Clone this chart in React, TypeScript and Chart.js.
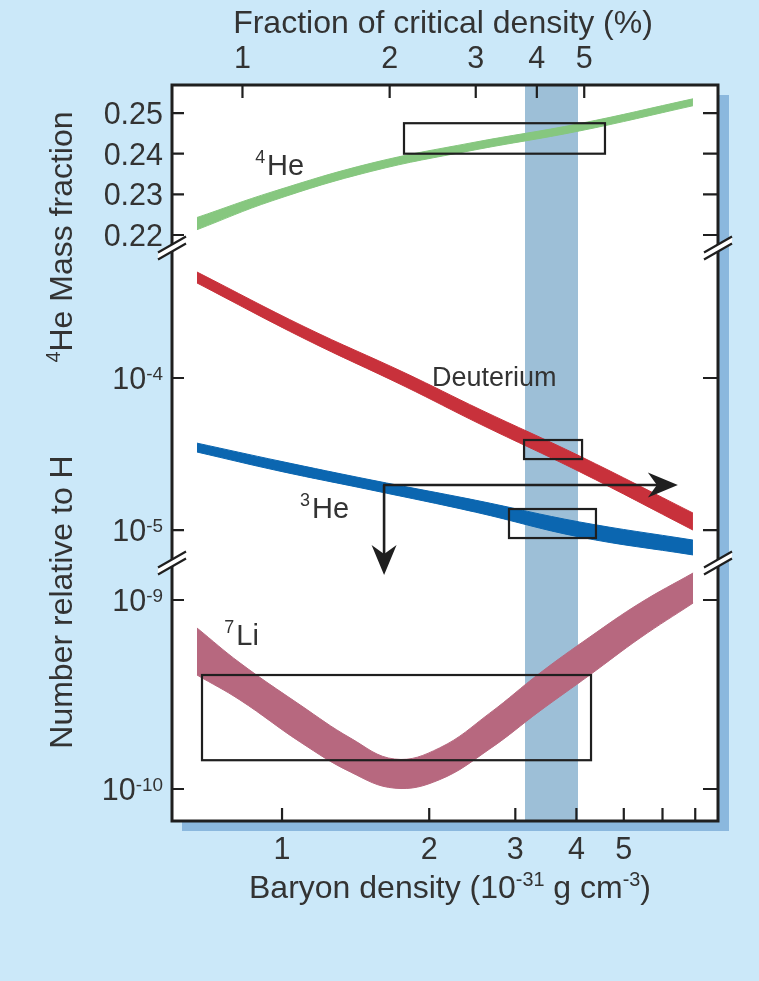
import React, { useEffect, useRef } from 'react';
import { Chart, registerables } from 'chart.js';

Chart.register(...registerables);

const W = 759;
const H = 981;

// ---- axes (baryon density, 10^-31 g cm^-3) ----
const xMin = 0.5956;
const xMax = 7.792;
const critPerPercent = 0.83; // baryon density equal to 1 % of critical density
const xBottomTicks = [1, 2, 3, 4, 5, 6, 7];
const xBottomLabels = ['1', '2', '3', '4', '5', '', ''];
const xTopTicks = [1, 2, 3, 4, 5];
const xTopLabels = ['1', '2', '3', '4', '5'];

const he4Range = [0.2168, 0.2569];
const he4Ticks = [0.22, 0.23, 0.24, 0.25];
const he4TickLabels = ['0.22', '0.23', '0.24', '0.25'];
const midRange = [6.07e-6, 7.165e-4];
const midTicks = [1e-5, 1e-4];
const midTickExp = ['-5', '-4'];
const liRange = [6.77e-11, 1.57e-9];
const liTicks = [1e-10, 1e-9];
const liTickExp = ['-10', '-9'];

// ---- theory bands ----
const he4X = [0.67, 0.954, 1.527, 2.446, 4.06, 6.925];
const he4Upper = [0.2243, 0.2306, 0.2377, 0.2427, 0.2474, 0.2535];
const he4Lower = [0.2213, 0.2284, 0.2357, 0.2408, 0.2456, 0.2518];

const dX = [0.67, 1.114, 1.785, 2.541, 4.06, 6.925];
const dUpper = [4.98e-4, 2.165e-4, 1.079e-4, 6.21e-5, 3.07e-5, 1.294e-5];
const dLower = [4.22e-4, 1.807e-4, 8.79e-5, 4.98e-5, 2.42e-5, 1.0e-5];

const he3X = [0.67, 0.99, 1.527, 2.49, 4.06, 6.925];
const he3Upper = [3.73e-5, 2.84e-5, 2.13e-5, 1.57e-5, 1.13e-5, 8.59e-6];
const he3Lower = [3.26e-5, 2.44e-5, 1.83e-5, 1.31e-5, 9.0e-6, 6.86e-6];

const liX = [0.67, 0.82, 1.09, 1.38, 1.7, 2.1, 2.66, 3.37, 4.26, 5.4, 6.93];
const liUpper = [7.11e-10, 4.65e-10, 2.78e-10, 1.86e-10, 1.44e-10, 1.65e-10, 2.52e-10, 4.11e-10, 6.37e-10, 9.64e-10, 1.39e-9];
const liLower = [4.01e-10, 2.96e-10, 1.77e-10, 1.23e-10, 1.01e-10, 1.12e-10, 1.63e-10, 2.59e-10, 4.01e-10, 6.3e-10, 9.64e-10];

// ---- observational constraints ----
const concordance = [3.14, 4.03];
const he4Box = { x: [1.776, 4.576], y: [0.24, 0.2475] };
const dBox = { x: [3.126, 4.108], y: [2.93e-5, 3.91e-5] };
const he3Box = { x: [2.912, 4.386], y: [8.86e-6, 1.375e-5] };
const liBox = { x: [0.686, 4.285], y: [1.42e-10, 4.01e-10] };
const arrowOrigin = { x: 1.617, y: 1.976e-5 };
const arrowRightTip = 6.45;
const arrowDownTip = 5.06e-6;

// ---- labels ----
const he4Label = { sup: '4', text: 'He', x: 0.881, y: 0.23476 };
const dLabel = { sup: '', text: 'Deuterium', x: 2.026, y: 8.86e-5 };
const he3Label = { sup: '3', text: 'He', x: 1.088, y: 1.2e-5 };
const liLabel = { sup: '7', text: 'Li', x: 0.762, y: 5.78e-10 };

const FONT = '"Liberation Sans", Arial, Helvetica, sans-serif';
const TEXT = '#333333';
const INK = '#1f1f1f';
const BG = '#cbe8f9';
const SHADOW = '#8bb8de';
const GREEN = '#86c77f';
const RED = '#c8313b';
const BLUE = '#0b66b0';
const PINK = '#b7687f';
const BAND = '#9dbfd7';

type Part = [string, boolean];

function rich(ctx: CanvasRenderingContext2D, parts: Part[], x: number, y: number, size: number, align: string, raise = 0.34, supRatio = 0.62, gap = 0) {
  const supSize = size * supRatio;
  const widths = parts.map(([t, s]) => {
    ctx.font = `${s ? supSize : size}px ${FONT}`;
    return ctx.measureText(t).width + (s ? gap : 0);
  });
  const total = widths.reduce((a, b) => a + b, 0);
  let cx = align === 'right' ? x - total : align === 'center' ? x - total / 2 : x;
  ctx.textAlign = 'left';
  ctx.textBaseline = 'alphabetic';
  parts.forEach(([t, s], i) => {
    ctx.font = `${s ? supSize : size}px ${FONT}`;
    ctx.fillText(t, cx, s ? y - size * raise : y);
    cx += widths[i];
  });
}

function pts(xs: number[], ys: number[]) {
  return xs.map((x, i) => ({ x, y: ys[i] }));
}

function bandPair(label: string, xs: number[], up: number[], lo: number[], color: string, axis: string) {
  const common = {
    type: 'line' as const,
    yAxisID: axis,
    xAxisID: 'x',
    pointRadius: 0,
    borderWidth: 1,
    borderColor: color,
    backgroundColor: color,
    tension: 0.4,
  };
  return [
    { ...common, label: label + ' upper', data: pts(xs, up), fill: false },
    { ...common, label: label + ' lower', data: pts(xs, lo), fill: '-1' },
  ];
}

const hiddenScale = {
  display: true,
  grid: { display: false, drawTicks: false },
  border: { display: false },
  ticks: { display: false },
  title: { display: false },
  bounds: 'data' as const,
};

const decor = {
  id: 'bbnDecor',
  beforeDraw(chart: any) {
    const { ctx, chartArea: a } = chart;
    ctx.save();
    ctx.fillStyle = BG;
    ctx.fillRect(0, 0, chart.width, chart.height);
    ctx.fillStyle = SHADOW;
    ctx.fillRect(a.right, a.top + 10, 11, a.bottom - a.top);
    ctx.fillRect(a.left + 10, a.bottom, a.right - a.left + 1, 10);
    ctx.fillStyle = '#ffffff';
    ctx.fillRect(a.left, a.top, a.right - a.left, a.bottom - a.top);
    ctx.restore();
  },
  beforeDatasetsDraw(chart: any) {
    const { ctx, chartArea: a, scales } = chart;
    const x0 = scales.x.getPixelForValue(concordance[0]);
    const x1 = scales.x.getPixelForValue(concordance[1]);
    ctx.save();
    ctx.fillStyle = BAND;
    ctx.fillRect(x0, a.top, x1 - x0, a.bottom - a.top);
    ctx.restore();
  },
  afterDatasetsDraw(chart: any) {
    const { ctx, chartArea: a, scales } = chart;
    const sx = scales.x;
    const sTop = scales.xTop;
    const yHe4 = scales.yHe4;
    const yMid = scales.yMid;
    const yLi = scales.yLi;
    ctx.save();

    // observational boxes
    ctx.strokeStyle = INK;
    ctx.lineWidth = 2.2;
    const box = (b: any, ys: any) => {
      const l = sx.getPixelForValue(b.x[0]);
      const r = sx.getPixelForValue(b.x[1]);
      const t = ys.getPixelForValue(b.y[1]);
      const bt = ys.getPixelForValue(b.y[0]);
      ctx.strokeRect(l, t, r - l, bt - t);
    };
    box(he4Box, yHe4);
    box(dBox, yMid);
    box(he3Box, yMid);
    box(liBox, yLi);

    // limit arrows
    const ox = sx.getPixelForValue(arrowOrigin.x);
    const oy = yMid.getPixelForValue(arrowOrigin.y);
    const rx = sx.getPixelForValue(arrowRightTip);
    const dy = yMid.getPixelForValue(arrowDownTip);
    const head = (tx: number, ty: number, ux: number, uy: number) => {
      const len = 30, half = 12.5, notch = 9;
      const bx = tx - ux * len, by = ty - uy * len;
      const nx = -uy, ny = ux;
      ctx.beginPath();
      ctx.moveTo(tx, ty);
      ctx.lineTo(bx + nx * half, by + ny * half);
      ctx.lineTo(tx - ux * (len - notch), ty - uy * (len - notch));
      ctx.lineTo(bx - nx * half, by - ny * half);
      ctx.closePath();
      ctx.fillStyle = INK;
      ctx.fill();
    };
    ctx.lineWidth = 2.6;
    ctx.beginPath();
    ctx.moveTo(ox - 1, oy);
    ctx.lineTo(rx - 20, oy);
    ctx.moveTo(ox, oy);
    ctx.lineTo(ox, dy - 20);
    ctx.stroke();
    head(rx, oy, 1, 0);
    head(ox, dy, 0, 1);

    // curve labels
    ctx.fillStyle = TEXT;
    const lab = (L: any, ys: any, size: number) => {
      const px = sx.getPixelForValue(L.x);
      const py = ys.getPixelForValue(L.y);
      const parts: Part[] = L.sup ? [[L.sup, true], [L.text, false]] : [[L.text, false]];
      rich(ctx, parts, px, py, size, 'left', 0.4, 0.62, 2);
    };
    lab(he4Label, yHe4, 29);
    lab(dLabel, yMid, 27);
    lab(he3Label, yMid, 29);
    lab(liLabel, yLi, 29);

    // frame
    ctx.strokeStyle = INK;
    ctx.lineWidth = 3;
    ctx.strokeRect(a.left, a.top, a.right - a.left, a.bottom - a.top);

    // inward tick marks
    ctx.lineWidth = 2.2;
    ctx.beginPath();
    sx.ticks.forEach((t: any) => {
      const p = sx.getPixelForValue(t.value);
      ctx.moveTo(p, a.bottom);
      ctx.lineTo(p, a.bottom - 13);
    });
    sTop.ticks.forEach((t: any) => {
      const p = sTop.getPixelForValue(t.value);
      ctx.moveTo(p, a.top);
      ctx.lineTo(p, a.top + 13);
    });
    [yHe4, yMid, yLi].forEach((s: any) => {
      s.ticks.forEach((t: any) => {
        const p = s.getPixelForValue(t.value);
        ctx.moveTo(a.left, p);
        ctx.lineTo(a.left + 12, p);
        ctx.moveTo(a.right, p);
        ctx.lineTo(a.right - 15, p);
      });
    });
    ctx.stroke();

    // axis breaks
    const brk = (cx: number, cy: number) => {
      const hx = 14, hy = 8, g = 3.5;
      ctx.beginPath();
      ctx.moveTo(cx - hx, cy + hy - g);
      ctx.lineTo(cx + hx, cy - hy - g);
      ctx.lineTo(cx + hx, cy - hy + g);
      ctx.lineTo(cx - hx, cy + hy + g);
      ctx.closePath();
      ctx.fillStyle = '#ffffff';
      ctx.fill();
      ctx.beginPath();
      ctx.moveTo(cx - hx, cy + hy - g);
      ctx.lineTo(cx + hx, cy - hy - g);
      ctx.moveTo(cx - hx, cy + hy + g);
      ctx.lineTo(cx + hx, cy - hy + g);
      ctx.strokeStyle = INK;
      ctx.lineWidth = 2.2;
      ctx.stroke();
    };
    [yHe4.bottom, yMid.bottom].forEach((yb: number) => {
      brk(a.left, yb);
      brk(a.right, yb);
    });

    // tick labels
    ctx.fillStyle = TEXT;
    const TS = 30.5;
    sx.ticks.forEach((t: any, i: number) => {
      const lbl = xBottomLabels[i];
      if (lbl) rich(ctx, [[lbl, false]], sx.getPixelForValue(t.value), a.bottom + 38, TS, 'center');
    });
    sTop.ticks.forEach((t: any, i: number) => {
      rich(ctx, [[xTopLabels[i], false]], sTop.getPixelForValue(t.value), a.top - 17, TS, 'center');
    });
    yHe4.ticks.forEach((t: any, i: number) => {
      rich(ctx, [[he4TickLabels[i], false]], a.left - 9, yHe4.getPixelForValue(t.value) + 11, TS, 'right');
    });
    yMid.ticks.forEach((t: any, i: number) => {
      rich(ctx, [['10', false], [midTickExp[i], true]], a.left - 9, yMid.getPixelForValue(t.value) + 11, TS, 'right', 0.3);
    });
    yLi.ticks.forEach((t: any, i: number) => {
      rich(ctx, [['10', false], [liTickExp[i], true]], a.left - 9, yLi.getPixelForValue(t.value) + 11, TS, 'right', 0.3);
    });

    // axis titles
    const TT = 32;
    const cxp = (a.left + a.right) / 2;
    rich(ctx, [['Fraction of critical density (%)', false]], cxp - 2, a.top - 52, TT, 'center');
    rich(ctx, [['Baryon density (10', false], ['-31', true], [' g cm', false], ['-3', true], [')', false]], cxp + 5, a.bottom + 77, TT, 'center', 0.36);

    const vTitle = (parts: Part[], cx: number, cy: number) => {
      ctx.save();
      ctx.translate(cx, cy);
      ctx.rotate(-Math.PI / 2);
      rich(ctx, parts, 0, 11, TT, 'center', 0.36);
      ctx.restore();
    };
    vTitle([['4', true], ['He Mass fraction', false]], 61, 237);
    vTitle([['Number relative to H', false]], 61, 602);

    ctx.restore();
  },
};

export default function App() {
  const ref = useRef<HTMLCanvasElement | null>(null);
  useEffect(() => {
    document.body.style.margin = '0';
    const canvas = ref.current;
    if (!canvas) return;
    const chart = new Chart(canvas, {
      type: 'line',
      data: {
        datasets: [
          ...bandPair('4He', he4X, he4Upper, he4Lower, GREEN, 'yHe4'),
          ...bandPair('Deuterium', dX, dUpper, dLower, RED, 'yMid'),
          ...bandPair('3He', he3X, he3Upper, he3Lower, BLUE, 'yMid'),
          ...bandPair('7Li', liX, liUpper, liLower, PINK, 'yLi'),
        ] as any,
      },
      options: {
        responsive: false,
        animation: false,
        devicePixelRatio: 1,
        layout: { padding: { left: 172, top: 85, right: 41, bottom: 160 } },
        plugins: { legend: { display: false }, tooltip: { enabled: false }, title: { display: false } },
        scales: {
          x: {
            ...hiddenScale,
            type: 'logarithmic',
            position: 'bottom',
            min: xMin,
            max: xMax,
            afterBuildTicks: (s: any) => { s.ticks = xBottomTicks.map((v) => ({ value: v })); },
          },
          xTop: {
            ...hiddenScale,
            type: 'logarithmic',
            position: 'top',
            min: xMin / critPerPercent,
            max: xMax / critPerPercent,
            afterBuildTicks: (s: any) => { s.ticks = xTopTicks.map((v) => ({ value: v })); },
          },
          yHe4: {
            ...hiddenScale,
            type: 'linear',
            position: 'left',
            stack: 'panels',
            stackWeight: 163,
            weight: 3,
            min: he4Range[0],
            max: he4Range[1],
            afterBuildTicks: (s: any) => { s.ticks = he4Ticks.map((v) => ({ value: v })); },
          },
          yMid: {
            ...hiddenScale,
            type: 'logarithmic',
            position: 'left',
            stack: 'panels',
            stackWeight: 315,
            weight: 2,
            min: midRange[0],
            max: midRange[1],
            afterBuildTicks: (s: any) => { s.ticks = midTicks.map((v) => ({ value: v })); },
          },
          yLi: {
            ...hiddenScale,
            type: 'logarithmic',
            position: 'left',
            stack: 'panels',
            stackWeight: 258,
            weight: 1,
            min: liRange[0],
            max: liRange[1],
            afterBuildTicks: (s: any) => { s.ticks = liTicks.map((v) => ({ value: v })); },
          },
        } as any,
      },
      plugins: [decor],
    });
    return () => chart.destroy();
  }, []);
  return (
    <div style={{ position: 'absolute', left: 0, top: 0, width: W, height: H, background: BG }}>
      <canvas ref={ref} width={W} height={H} style={{ display: 'block', width: W, height: H }} />
    </div>
  );
}
